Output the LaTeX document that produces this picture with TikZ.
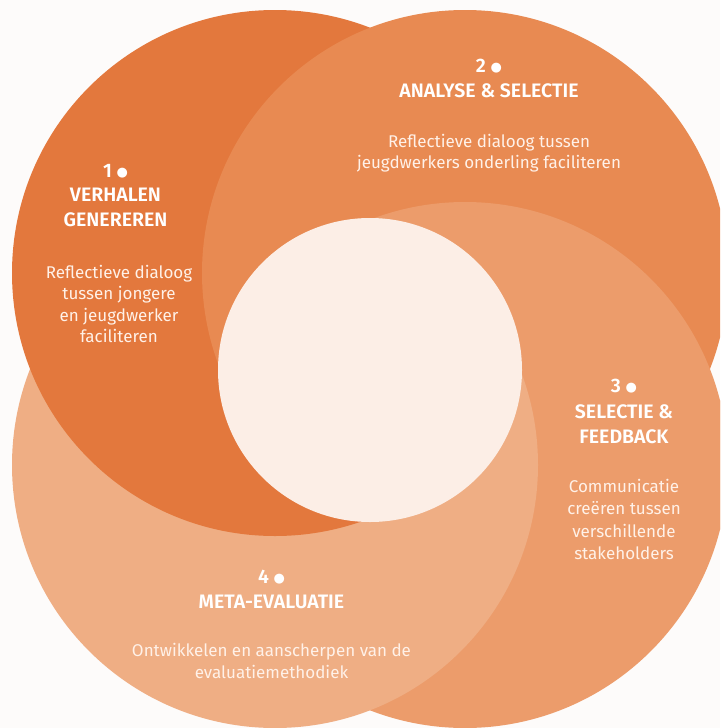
\documentclass[tikz,border=0pt]{standalone}
\usepackage{fontspec}
\setmainfont{Fira Sans}[BoldFont={Fira Sans SemiBold}]
\newfontfamily\dotfont{DejaVu Sans}
\definecolor{cone}{HTML}{E3783D}
\definecolor{ctwo}{HTML}{E88A52}
\definecolor{cthree}{HTML}{EC9C6B}
\definecolor{cfour}{HTML}{EFAE84}
\definecolor{ccenter}{HTML}{FCEEE6}
\definecolor{cbg}{HTML}{FDFBFA}
\definecolor{ctxt}{HTML}{FFF1E8}
\newcommand{\bigdot}{\raisebox{0.5pt}{\dotfont\fontsize{13}{13}\selectfont ●}}
\begin{document}
\begin{tikzpicture}[x=1pt,y=-1pt,
  titletext/.style={text=white, font=\bfseries\fontsize{19.5}{22}\selectfont, anchor=base, inner sep=0pt},
  bodytext/.style={text=ctxt, font=\fontsize{17}{21}\selectfont, anchor=base, inner sep=0pt}]
\useasboundingbox (0,0) rectangle (720,728);
\clip (0,0) rectangle (720,728);
\def\R{263}
\def\circone{\fill[cone] (275,273) circle (\R);}
\def\circtwo{\fill[ctwo] (465,273) circle (\R);}
\def\circthree{\fill[cthree] (465,465) circle (\R);}
\def\circfour{\fill[cfour] (275,465) circle (\R);}
% upper half: order 4,1,2,3
\fill[cbg] (0,0) rectangle (720,728);
\circfour \circone \circtwo \circthree
% lower half: order 2,3,4,1
\begin{scope}
  \clip (0,370) rectangle (720,728);
  \fill[cbg] (0,370) rectangle (720,728);
  \circtwo \circthree \circfour \circone
\end{scope}
\fill[ccenter] (370,370) circle (152);
% texts circle 1
\node[titletext] (n1) at (115.5,177) {1 \bigdot};
\node[titletext] (t1a) at (115.5,201) {VERHALEN};
\node[titletext] (t1b) at (115.5,226) {GENEREREN};
\node[bodytext] (b1a) at (119,278) {Reflectieve dialoog};
\node[bodytext] (b1b) at (119,299.5) {tussen jongere};
\node[bodytext] (b1c) at (119,321) {en jeugdwerker};
\node[bodytext] (b1d) at (119,342.5) {faciliteren};
% circle 2
\node[titletext] (n2) at (489,72) {2 \bigdot};
\node[titletext] (t2a) at (489,97) {ANALYSE \& SELECTIE};
\node[bodytext] (b2a) at (489,147) {Reflectieve dialoog tussen};
\node[bodytext] (b2b) at (489,168.5) {jeugdwerkers onderling faciliteren};
% circle 3
\node[titletext] (n3) at (624,392) {3 \bigdot};
\node[titletext] (t3a) at (624,418) {SELECTIE \&};
\node[titletext] (t3b) at (624,443) {FEEDBACK};
\node[bodytext] (b3a) at (624,492) {Communicatie};
\node[bodytext] (b3b) at (624,514.5) {creëren tussen};
\node[bodytext] (b3c) at (624,537) {verschillende};
\node[bodytext] (b3d) at (624,559) {stakeholders};
% circle 4
\node[titletext] (n4) at (271.5,583) {4 \bigdot};
\node[titletext] (t4a) at (271.5,608) {META-EVALUATIE};
\node[bodytext] (b4a) at (271.5,656) {Ontwikkelen en aanscherpen van de};
\node[bodytext] (b4b) at (271.5,678) {evaluatiemethodiek};
\end{tikzpicture}
\end{document}
